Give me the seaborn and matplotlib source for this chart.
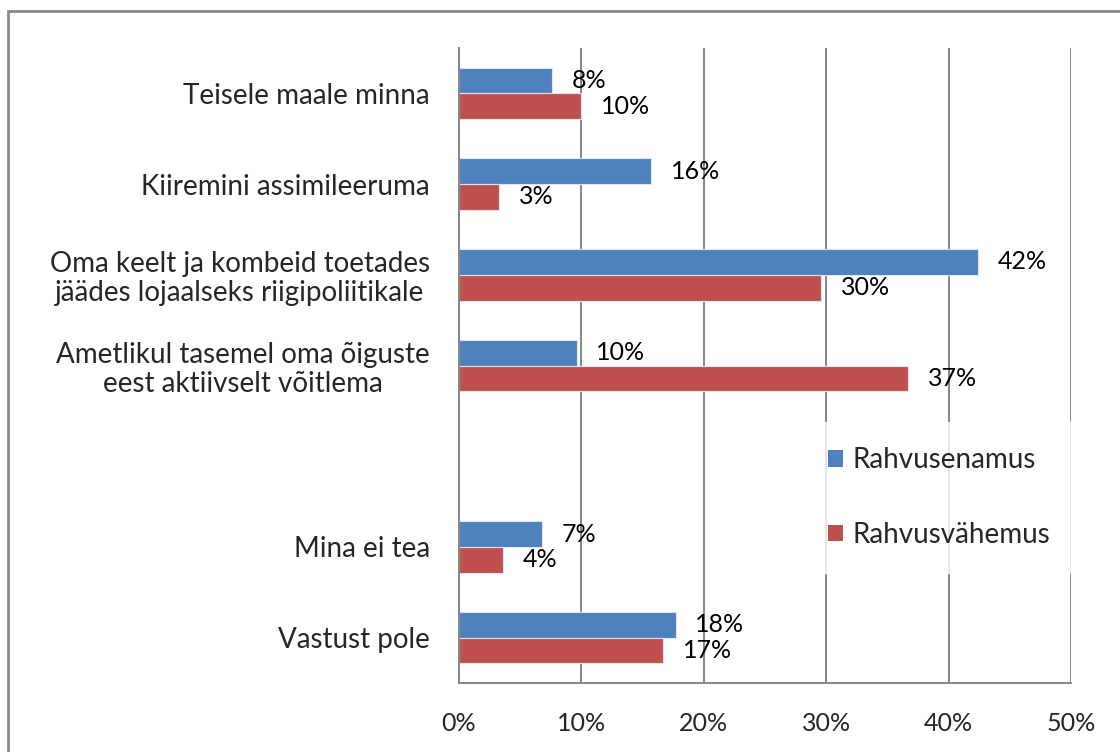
import numpy as np
import pandas as pd
import matplotlib
matplotlib.use("Agg")
import matplotlib.pyplot as plt
import matplotlib.transforms as mtransforms
import seaborn as sns
from matplotlib.patches import Rectangle

categories = [
    "Teisele maale minna",
    "Kiiremini assimileeruma",
    "Oma keelt ja kombeid toetades\njäädes lojaalseks riigipoliitikale",
    "Ametlikul tasemel oma õiguste\neest aktiivselt võitlema",
    "",
    "Mina ei tea",
    "Vastust pole",
]
data_categories = [c for c in categories if c != ""]
series_names = ["Rahvusenamus", "Rahvusvähemus"]
enamus = [7.6, 15.7, 42.4, 9.6, 6.8, 17.7]
vahemus = [10.0, 3.3, 29.6, 36.7, 3.6, 16.7]
xticks = [0, 10, 20, 30, 40, 50]
colors = ["#4F81BD", "#C0504D"]

df = pd.DataFrame({
    "category": data_categories * 2,
    "series": [series_names[0]] * len(data_categories) + [series_names[1]] * len(data_categories),
    "value": enamus + vahemus,
})

sns.set_style("white")
plt.rcParams['font.family'] = ['Lato', 'DejaVu Sans']

fig = plt.figure(figsize=(11.2, 7.52), dpi=100)
ax = fig.add_axes([459/1120, 1 - 683/752, (1071-459)/1120, (683-48)/752])

sns.barplot(data=df, y="category", x="value", hue="series", order=categories,
            hue_order=series_names, palette=colors, orient="h", width=0.57,
            saturation=1, ax=ax, legend=True, errorbar=None,
            edgecolor="#dde6f0", linewidth=0.8)

ax.set_xlim(0, 50)
ax.set_ylim(len(categories) - 0.5, -0.5)
ax.set_xticks(xticks)
ax.set_xticklabels([f"{t}%" for t in xticks], fontsize=18)
ax.set_xlabel("")
ax.set_ylabel("")
ax.xaxis.grid(True, color="#868686", lw=1.4)
ax.yaxis.grid(False)
ax.set_axisbelow(True)

ax.set_yticks(range(len(categories)))
ax.set_yticklabels(categories, fontsize=20, multialignment="center", linespacing=1.15)
ax.tick_params(axis="y", which="major", length=0, pad=21)
ax.set_yticks(np.arange(-0.5, len(categories)), minor=True)
ax.tick_params(axis="y", which="minor", length=11, width=1.4, color="#868686")
ax.tick_params(axis="x", which="major", length=7, width=1.4, color="#868686", pad=14)

for s in ["top", "right"]:
    ax.spines[s].set_visible(False)
for s in ["left", "bottom"]:
    ax.spines[s].set_color("#868686")
    ax.spines[s].set_linewidth(1.4)

for cont, dy in zip(ax.containers, [3, -3]):
    labels = [f"{round(v.get_width())}%" if v.get_width() > 0 else "" for v in cont]
    texts = ax.bar_label(cont, labels=labels, padding=14, fontsize=18, color="black")
    for t in texts:
        t.set_transform(t.get_transform() + mtransforms.ScaledTranslation(0, dy / 100, fig.dpi_scale_trans))

leg = ax.legend(loc="center left", bbox_to_anchor=(0.539, 0.292), frameon=True,
                fontsize=20, handlelength=0.55, handleheight=0.55, handletextpad=0.35,
                labelspacing=1.75, borderpad=0.9, fancybox=False)
leg.get_frame().set_facecolor("white")
leg.get_frame().set_edgecolor("white")
for h in leg.legend_handles:
    h.set_edgecolor("none")

fig.patches.append(Rectangle((8/1120, -0.1), 1.2, 1 - 11/752 + 0.1, transform=fig.transFigure,
                             fill=False, edgecolor="#8a8a8a", lw=2, zorder=10))

fig.savefig("out.png", dpi=100, facecolor="white")
